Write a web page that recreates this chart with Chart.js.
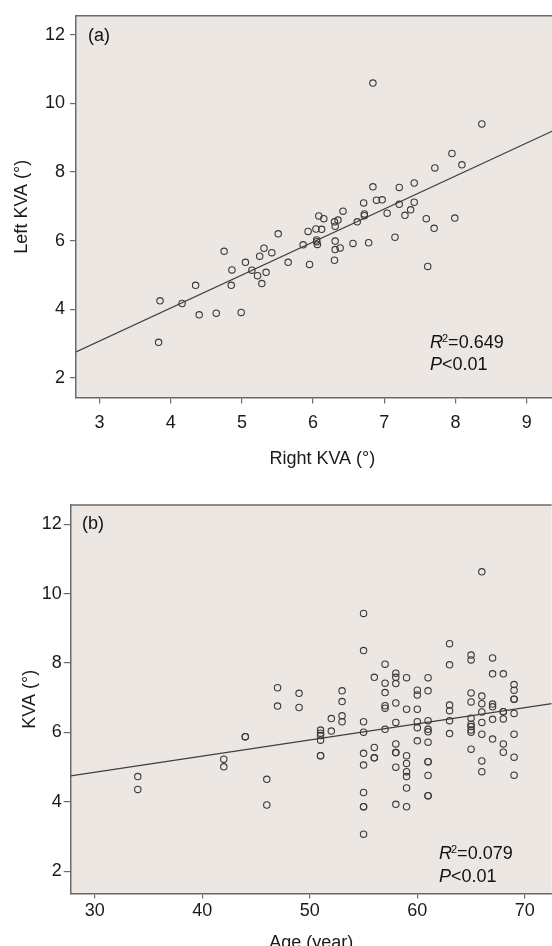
<!DOCTYPE html>
<html>
<head>
<meta charset="utf-8">
<script src="https://cdn.jsdelivr.net/npm/chart.js@4.4.0/dist/chart.umd.min.js"></script>
<style>
  html, body { margin: 0; padding: 0; background: #fff; overflow: hidden; width: 552px; height: 946px; }
  .panel { position: absolute; left: 0; }
  #wrapA { top: 0; }
  #wrapB { top: 480px; }
</style>
</head>
<body>
<div class="panel" id="wrapA"><canvas id="chartA" width="573" height="475"></canvas></div>
<div class="panel" id="wrapB"><canvas id="chartB" width="556" height="480"></canvas></div>
<script>
// (a) right vs left KVA
const rightKVA = [3.85,3.83,4.16,4.35,4.40,4.64,4.75,4.86,4.85,4.99,5.05,5.14,5.22,5.25,5.31,5.28,5.34,5.42,5.51,5.65,
  5.86,5.93,5.95,6.04,6.08,6.15,6.12,6.05,6.05,6.06,6.30,6.35,6.31,6.42,6.31,6.31,6.38,6.30,6.56,6.62,
  6.71,6.72,6.72,6.78,6.84,6.89,6.97,7.04,7.15,7.21,7.21,7.29,7.37,7.42,7.42,7.59,7.61,7.70,7.71,6.84,
  8.37,7.95,8.09,7.99];
const leftKVA = [4.25,3.04,4.17,4.70,3.84,3.89,5.69,5.15,4.70,3.91,5.37,5.14,4.98,5.55,5.78,4.75,5.08,5.65,6.20,5.37,
  5.88,6.27,5.31,6.34,6.72,6.64,6.33,6.02,5.97,5.89,6.55,6.60,6.42,6.86,5.99,5.74,5.79,5.43,5.92,6.55,
  7.10,6.78,6.73,5.94,7.57,7.18,7.19,6.80,6.10,7.55,7.06,6.74,6.90,7.68,7.12,6.64,5.25,6.36,8.12,10.59,
  9.40,8.54,8.21,6.66];
const fitAx = [2.67, 9.6];
const fitAy = [2.76, 9.42];
const xTicksA = [3, 4, 5, 6, 7, 8, 9];

// (b) age vs KVA
const ages = [34,34,42,42,44,44,46,46,47,47,49,49,
  51,51,51,51,51,51,52,52,53,53,53,53,
  55,55,55,55,55,55,55,55,55,55,
  56,56,56,56,
  57,57,57,57,57,57,
  58,58,58,58,58,58,58,58,58,58,
  59,59,59,59,59,59,59,59,
  60,60,60,60,60,60,
  61,61,61,61,61,61,61,61,61,61,61,
  63,63,63,63,63,63,
  65,65,65,65,65,65,65,65,65,65,
  66,66,66,66,66,66,66,66,
  67,67,67,67,67,67,
  68,68,68,68,68,68,
  69,69,69,69,69,69,69,69];
const kva = [4.73,4.36,5.23,5.01,5.88,5.88,4.65,3.91,7.29,6.76,7.13,6.72,
  6.07,5.98,5.91,5.78,5.33,5.33,6.40,6.04,7.20,6.89,6.48,6.31,
  9.43,8.36,6.31,6.01,5.40,5.06,4.27,3.86,3.86,3.07,
  7.59,5.57,5.27,5.27,
  7.97,7.42,7.15,6.77,6.70,6.09,
  7.71,7.59,7.41,6.85,6.29,5.67,5.42,5.42,5.00,3.93,
  7.58,6.67,5.33,5.11,4.87,4.73,4.40,3.86,
  7.22,7.08,6.67,6.31,6.14,5.76,
  7.58,7.20,6.34,6.09,6.02,5.72,5.16,5.16,4.76,4.18,4.18,
  8.56,7.95,6.79,6.63,6.34,5.97,
  8.23,8.09,7.14,6.88,6.41,6.24,6.17,6.07,6.01,5.52,
  10.63,7.05,6.83,6.59,6.29,5.95,5.18,4.87,
  8.15,7.69,6.82,6.74,6.38,5.81,
  7.69,6.60,6.60,6.39,5.67,5.43,
  7.38,7.22,6.96,6.96,6.55,5.95,5.29,4.77];
const fitBx = [27.76, 72.5];
const fitBy = [4.75, 6.83];
const xTicksB = [30, 40, 50, 60, 70];

const yTicks = [2, 4, 6, 8, 10, 12];

const FONT = "'Liberation Sans', Arial, sans-serif";
Chart.defaults.font.family = FONT;
Chart.defaults.font.size = 18;
Chart.defaults.color = '#1a1a1a';

const AXIS = '#6b6b6b';

// plot background, top frame line and the in-plot text
const panelDecor = {
  id: 'panelDecor',
  beforeDraw(chart) {
    const { ctx, chartArea: a } = chart;
    ctx.save();
    ctx.fillStyle = '#ede7e4';
    ctx.fillRect(a.left, a.top, a.right - a.left, a.bottom - a.top);
    ctx.restore();
  },
  afterDraw(chart, args, o) {
    const { ctx, chartArea: a } = chart;
    ctx.save();
    ctx.strokeStyle = AXIS;
    ctx.lineWidth = 1.5;
    ctx.beginPath();
    ctx.moveTo(a.left, a.top);
    ctx.lineTo(a.right, a.top);
    ctx.stroke();

    ctx.fillStyle = '#111';
    ctx.textBaseline = 'alphabetic';
    ctx.textAlign = 'left';
    ctx.font = `18px ${FONT}`;
    ctx.fillText(o.tag, o.tagX, o.tagY);

    let x = o.statX;
    ctx.font = `italic 18px ${FONT}`;
    ctx.fillText('R', x, o.statY);
    x += ctx.measureText('R').width;
    ctx.font = `11px ${FONT}`;
    ctx.fillText('2', x - 1, o.statY - 6);
    x += ctx.measureText('2').width - 1;
    ctx.font = `18px ${FONT}`;
    ctx.fillText('=' + o.r2, x, o.statY);

    x = o.statX;
    ctx.font = `italic 18px ${FONT}`;
    ctx.fillText('P', x, o.statY + o.pGap);
    x += ctx.measureText('P').width;
    ctx.font = `18px ${FONT}`;
    ctx.fillText('<0.01', x, o.statY + o.pGap);
    ctx.restore();
  }
};

function makePanel(id, o) {
  return new Chart(document.getElementById(id), {
    type: 'scatter',
    data: {
      datasets: [
        {
          data: o.xs.map((x, i) => ({ x, y: o.ys[i] })),
          pointRadius: 3.2,
          pointHoverRadius: 3.2,
          pointBorderWidth: 1.1,
          borderColor: '#3a3a3a',
          backgroundColor: 'transparent'
        },
        {
          data: o.fitX.map((x, i) => ({ x, y: o.fitY[i] })),
          showLine: true,
          pointRadius: 0,
          borderColor: '#3f3f3f',
          borderWidth: 1.2
        }
      ]
    },
    options: {
      responsive: false,
      animation: false,
      events: [],
      layout: { padding: { top: o.padTop, left: 0, right: 0, bottom: 0 } },
      plugins: {
        legend: { display: false },
        tooltip: { enabled: false },
        panelDecor: o.decor
      },
      scales: {
        x: {
          type: 'linear',
          min: o.xMin,
          max: o.xMax,
          afterBuildTicks: s => { s.ticks = o.xTicks.map(v => ({ value: v })); },
          afterFit: s => { s.height = o.xAxisH; },
          grid: { drawOnChartArea: false, color: AXIS, tickLength: o.xTickLen, lineWidth: 1.2 },
          border: { color: AXIS, width: 1.5 },
          ticks: { padding: o.xLabPad, maxRotation: 0, autoSkip: false, color: '#1a1a1a' },
          title: { display: true, text: o.xTitle, padding: { top: 0, bottom: o.xTitlePad }, color: '#1a1a1a' }
        },
        y: {
          type: 'linear',
          min: o.yMin,
          max: o.yMax,
          afterBuildTicks: s => { s.ticks = yTicks.map(v => ({ value: v })); },
          afterFit: s => { s.width = o.yAxisW; },
          grid: { drawOnChartArea: false, color: AXIS, tickLength: o.yTickLen, lineWidth: 1.2 },
          border: { color: AXIS, width: 1.5 },
          ticks: { padding: o.yLabPad, color: '#1a1a1a' },
          title: { display: true, text: o.yTitle, padding: { top: o.yTitlePad, bottom: 0 }, color: '#1a1a1a' }
        }
      }
    },
    plugins: [panelDecor]
  });
}

makePanel('chartA', {
  xs: rightKVA, ys: leftKVA, fitX: fitAx, fitY: fitAy, xTicks: xTicksA,
  xMin: 2.67, xMax: 9.59, yMin: 1.43, yMax: 12.55,
  padTop: 14, xAxisH: 77.4, yAxisW: 76,
  xTickLen: 6, yTickLen: 6, xLabPad: 9, yLabPad: 5,
  xTitle: 'Right KVA (°)', xTitlePad: 5,
  yTitle: 'Left KVA (°)', yTitlePad: 11,
  decor: { tag: '(a)', tagX: 88, tagY: 41, statX: 430, statY: 348, pGap: 22, r2: '0.649' }
});

makePanel('chartB', {
  xs: ages, ys: kva, fitX: fitBx, fitY: fitBy, xTicks: xTicksB,
  xMin: 27.76, xMax: 72.5, yMin: 1.36, yMax: 12.556,
  padTop: 25, xAxisH: 66.5, yAxisW: 70.7,
  xTickLen: 5, yTickLen: 7, xLabPad: 2, yLabPad: 2,
  xTitle: 'Age (year)', xTitlePad: 6,
  yTitle: 'KVA (°)', yTitlePad: 19,
  decor: { tag: '(b)', tagX: 82, tagY: 49, statX: 439, statY: 379, pGap: 23, r2: '0.079' }
});
</script>
</body>
</html>
